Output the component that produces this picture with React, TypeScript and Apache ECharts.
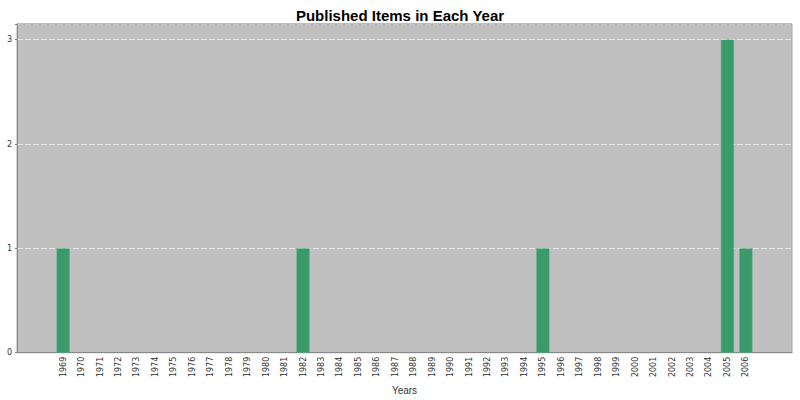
import React, { useEffect, useRef } from "react";
import * as echarts from "echarts";

const years: string[] = [
  "1969","1970","1971","1972","1973","1974","1975","1976","1977","1978",
  "1979","1980","1981","1982","1983","1984","1985","1986","1987","1988",
  "1989","1990","1991","1992","1993","1994","1995","1996","1997","1998",
  "1999","2000","2001","2002","2003","2004","2005","2006",
];
const counts: number[] = [
  1,0,0,0,0,0,0,0,0,0,
  0,0,0,1,0,0,0,0,0,0,
  0,0,0,0,0,0,1,0,0,0,
  0,0,0,0,0,0,3,1,
];
const yTicks: number[] = [0, 1, 2, 3];

export default function App() {
  const ref = useRef<HTMLDivElement>(null);
  useEffect(() => {
    if (!ref.current) return;
    const chart = echarts.init(ref.current, undefined, { renderer: "svg" });
    const pad = ["", ""];
    const cats = [...pad.map((_, i) => "p" + i), ...years, ...pad.map((_, i) => "q" + i)];
    const vals = [null, null, ...counts.map((v) => (v === 0 ? null : v)), null, null];
    chart.setOption({
      animation: false,
      backgroundColor: "#ffffff",
      title: {
        text: "Published Items in Each Year",
        left: "center",
        top: 3,
        textStyle: { fontFamily: "Liberation Sans", fontWeight: "bold", fontSize: 15, color: "#000" },
      },
      grid: {
        left: 17,
        right: 8,
        top: 24,
        bottom: 47,
        show: true,
        backgroundColor: "#c0c0c0",
        borderColor: "#a8a8a8",
        borderWidth: 1,
      },
      xAxis: {
        type: "category",
        data: cats,
        name: "Years",
        nameLocation: "middle",
        nameGap: 31,
        nameTextStyle: { fontFamily: "Liberation Sans", fontSize: 10, color: "#333" },
        axisLine: { show: true, lineStyle: { color: "#888" } },
        axisTick: { show: false },
        axisLabel: {
          interval: 0,
          rotate: 90,
          fontFamily: "DejaVu Sans",
          fontSize: 8,
          color: "#333",
          margin: 4,
          formatter: (v: string) => (years.includes(v) ? v : ""),
        },
        splitLine: { show: false },
      },
      yAxis: {
        type: "value",
        min: 0,
        max: 3.15,
        interval: 1,
        axisLine: { show: true, lineStyle: { color: "#888" } },
        axisTick: { show: true, length: 2, lineStyle: { color: "#888" } },
        axisLabel: {
          fontFamily: "DejaVu Sans",
          fontSize: 8,
          color: "#333",
          margin: 5,
          formatter: (v: number) => (yTicks.includes(v) ? String(v) : ""),
        },
        splitLine: { show: true, lineStyle: { color: "#e4e4e4", type: [6, 2], width: 1 } },
      },
      series: [
        {
          type: "bar",
          data: vals,
          barWidth: 13,
          itemStyle: { color: "#3a9a6a", borderColor: "#4aab7a", borderWidth: 0.5 },
        },
      ],
      graphic: [
        {
          type: "line",
          z: 100,
          shape: { x1: 17, y1: 24, x2: 792, y2: 24 },
          style: { stroke: "#a8a8a8", lineWidth: 1 },
        },
      ],
    });
    return () => chart.dispose();
  }, []);
  return <div ref={ref} style={{ width: 800, height: 400, position: "absolute", left: 0, top: 0 }} />;
}
